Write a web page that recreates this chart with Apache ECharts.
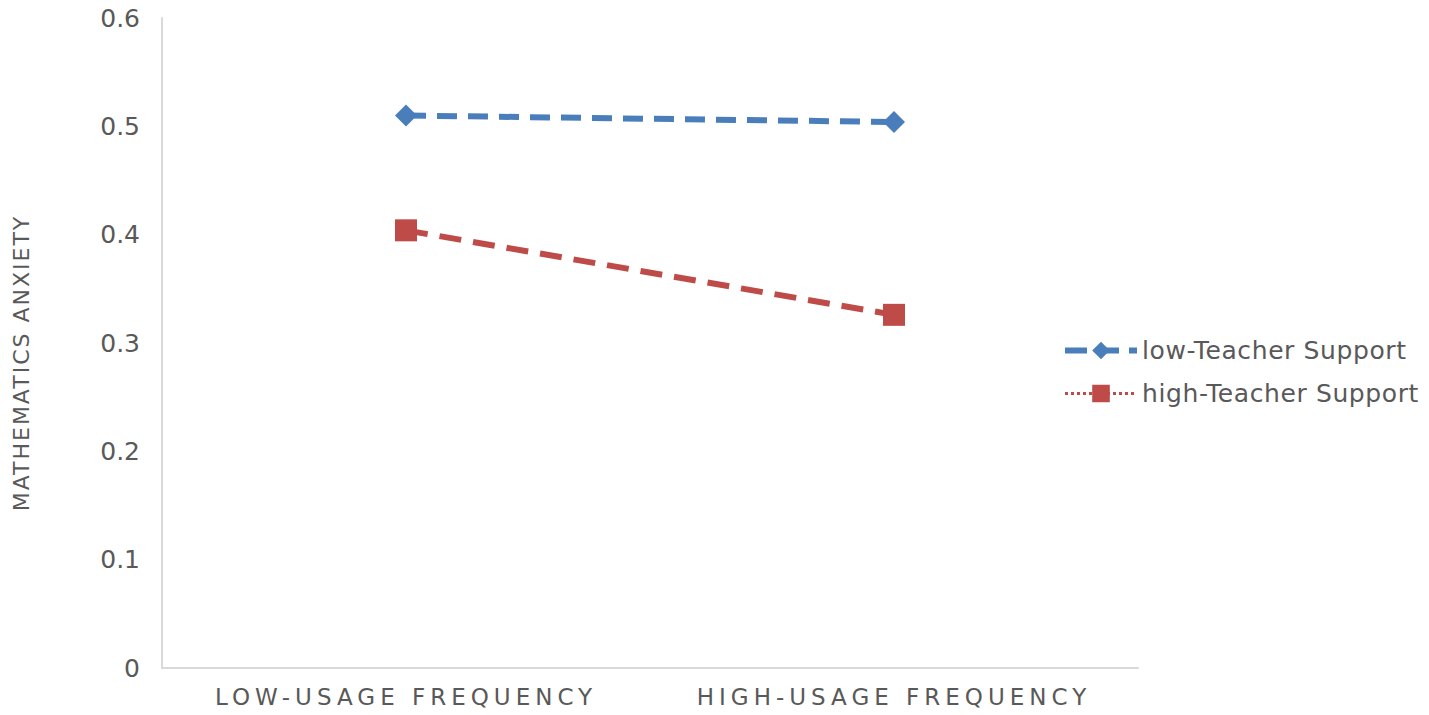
<!DOCTYPE html>
<html>
<head>
<meta charset="utf-8">
<script src="https://cdn.jsdelivr.net/npm/echarts@6/dist/echarts.min.js"></script>
<style>
  html, body { margin: 0; padding: 0; background: #fff; }
  #chart { width: 1429px; height: 715px; }
</style>
</head>
<body>
<div id="chart"></div>
<script>
// categories on the x axis
var categories = ['LOW-USAGE FREQUENCY', 'HIGH-USAGE FREQUENCY']
// series values
var lowSupport = [0.51, 0.504]
var highSupport = [0.404, 0.326]
// y ticks
var yTicks = [0, 0.1, 0.2, 0.3, 0.4, 0.5, 0.6]
var seriesNames = ['low-Teacher Support', 'high-Teacher Support']

var blue = '#4a7ebb'
var red = '#be4b48'
var grey = '#595959'

var chart = echarts.init(document.getElementById('chart'), null, { renderer: 'svg' })
chart.setOption({
  animation: false,
  textStyle: { fontFamily: 'DejaVu Sans, sans-serif' },
  grid: {
    left: 162,
    right: 291,
    top: 18,
    bottom: 47
  },
  legend: {
    orient: 'vertical',
    left: 1057,
    top: 333,
    itemWidth: 72,
    itemHeight: 22,
    itemGap: 18,
    textStyle: { fontSize: 25, color: grey },
    data: [
      { name: seriesNames[0], lineStyle: { width: 6, type: [22, 10] } },
      { name: seriesNames[1], lineStyle: { type: 'dotted', width: 3 } }
    ]
  },
  xAxis: {
    type: 'category',
    data: categories,
    axisTick: { show: false },
    axisLine: { lineStyle: { color: '#d9d9d9', width: 2 } },
    axisLabel: {
      color: grey,
      fontSize: 23,
      margin: 17
    }
  },
  yAxis: {
    type: 'value',
    min: yTicks[0],
    max: yTicks[yTicks.length - 1],
    interval: 0.1,
    name: 'MATHEMATICS ANXIETY',
    nameLocation: 'middle',
    nameGap: 130,
    nameTextStyle: { fontSize: 22, color: grey, padding: [0, 40, 0, 0] },
    splitLine: { show: false },
    axisTick: { show: false },
    axisLine: { show: true, lineStyle: { color: '#d9d9d9', width: 2 } },
    axisLabel: {
      color: grey,
      fontSize: 25,
      margin: 22,
      formatter: function(v) {
        return v === 0 ? '0' : v.toFixed(1)
      }
    }
  },
  series: [
    {
      name: seriesNames[0],
      type: 'line',
      data: lowSupport,
      symbol: 'diamond',
      symbolSize: 22,
      itemStyle: { color: blue },
      lineStyle: { color: blue, width: 6, type: [20, 11] }
    },
    {
      name: seriesNames[1],
      type: 'line',
      data: highSupport,
      symbol: 'rect',
      symbolSize: 22,
      itemStyle: { color: red },
      lineStyle: { color: red, width: 6, type: [22, 12] }
    }
  ]
})

// 拉开字距，贴近原图
var texts = document.querySelectorAll('#chart svg text')
texts.forEach(function(t) {
  if (categories.indexOf(t.textContent) >= 0) {
    t.style.letterSpacing = '5px'
  }
  if (t.textContent === 'MATHEMATICS ANXIETY') {
    t.style.letterSpacing = '2px'
  }
  if (seriesNames.indexOf(t.textContent) >= 0) {
    t.style.letterSpacing = '0.6px'
  }
})
</script>
</body>
</html>
